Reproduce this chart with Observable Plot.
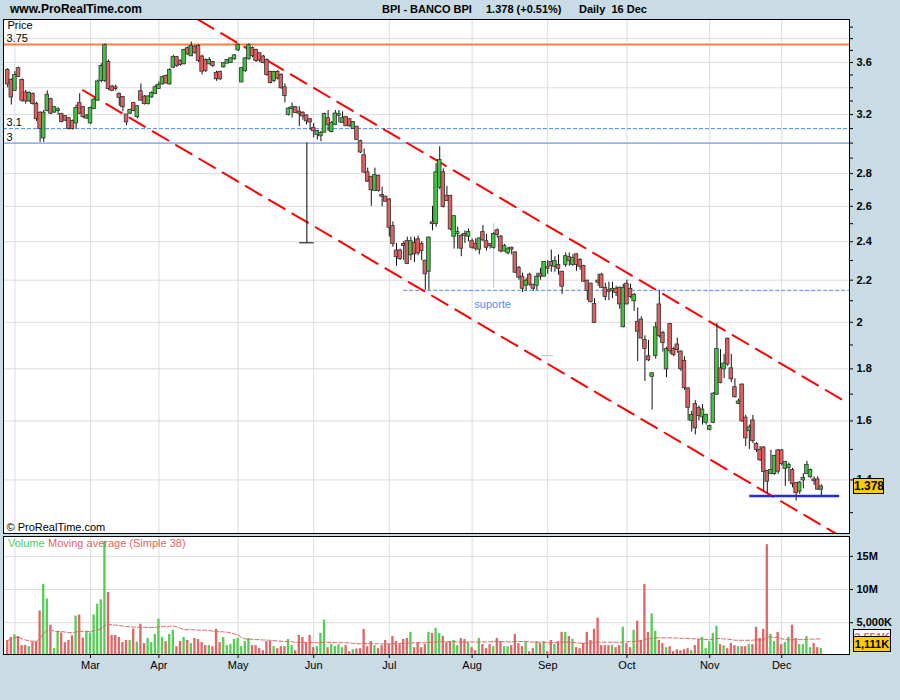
<!DOCTYPE html>
<html><head><meta charset="utf-8">
<script src="https://cdn.jsdelivr.net/npm/d3@7"></script>
<script src="https://cdn.jsdelivr.net/npm/@observablehq/plot@0.6"></script>
<style>
body{margin:0;background:#c9dce6;font-family:"Liberation Sans",Arial,sans-serif;}
#wrap{position:relative;width:900px;height:700px;overflow:hidden;background:#c9dce6;}
.abs{position:absolute;white-space:pre;}
.pp g[aria-label^="y-axis"] text{font-weight:bold;}
.vp g[aria-label^="y-axis"] text{font-weight:bold;}
</style></head>
<body><div id="wrap"></div>
<script>
// ---------------- data ----------------
const site = "www.ProRealTime.com";
const ticker = "BPI - BANCO BPI";
const lastText = "1.378 (+0.51%)";
const period = "Daily  16 Dec";
const holidays = ["2008-03-21","2008-03-24","2008-05-01"];

const open = [
3.535,3.457,3.381,3.55,3.457,3.36,3.30,3.35,3.276,3.21,
3.035,3.23,3.31,3.218,3.23,3.20,3.185,3.17,3.15,3.14,
3.28,3.25,3.175,3.14,3.245,3.306,3.457,3.457,3.60,3.405,
3.40,3.35,3.326,3.197,3.21,3.28,3.185,3.37,3.33,3.28,
3.33,3.355,3.395,3.43,3.488,3.43,3.562,3.64,3.61,3.59,
3.715,3.655,3.727,3.733,3.645,3.616,3.59,3.60,3.513,3.52,
3.565,3.595,3.60,3.63,3.705,3.445,3.535,3.63,3.715,3.70,
3.672,3.645,3.616,3.52,3.457,3.52,3.496,3.40,3.20,3.245,
3.25,3.218,3.21,3.19,3.163,3.10,3.06,3.05,3.075,3.17,
3.08,3.13,3.195,3.142,3.18,3.163,3.10,3.11,3.01,2.915,
2.805,2.777,2.695,2.783,2.665,2.655,2.638,2.484,2.35,2.35,
2.385,2.40,2.33,2.39,2.41,2.385,2.297,2.245,2.505,2.50,
2.715,2.805,2.66,2.66,2.43,2.445,2.43,2.44,2.43,2.40,
2.385,2.36,2.45,2.40,2.385,2.37,2.46,2.425,2.35,2.34,
2.365,2.34,2.26,2.215,2.175,2.225,2.175,2.175,2.23,2.22,
2.265,2.29,2.27,2.275,2.24,2.28,2.315,2.28,2.33,2.30,
2.27,2.195,2.18,2.082,2.195,2.225,2.16,2.15,2.15,2.155,
2.16,1.98,2.18,2.155,2.10,2.00,2.01,1.92,1.85,1.77,
1.855,2.08,1.95,1.80,1.99,1.88,1.90,1.87,1.83,1.72,
1.602,1.66,1.645,1.615,1.595,1.57,1.595,1.70,1.80,1.80,
1.925,1.80,1.725,1.665,1.735,1.61,1.565,1.60,1.517,1.497,
1.505,1.427,1.42,1.42,1.495,1.495,1.437,1.44,1.43,1.388,
1.365,1.40,1.42,1.41,1.40,1.40,1.371];

const high = [
3.55,3.47,3.527,3.563,3.47,3.38,3.37,3.36,3.29,3.22,
3.23,3.376,3.32,3.26,3.25,3.21,3.19,3.18,3.16,3.27,
3.355,3.26,3.20,3.255,3.32,3.46,3.59,3.755,3.62,3.42,
3.42,3.36,3.33,3.20,3.24,3.29,3.265,3.43,3.34,3.34,
3.37,3.42,3.445,3.49,3.50,3.55,3.66,3.65,3.62,3.71,
3.73,3.77,3.74,3.75,3.66,3.63,3.64,3.61,3.53,3.53,
3.60,3.625,3.64,3.665,3.755,3.56,3.64,3.755,3.73,3.71,
3.68,3.66,3.63,3.53,3.53,3.535,3.51,3.43,3.25,3.285,
3.26,3.257,3.22,3.197,3.17,3.136,3.087,3.08,3.21,3.23,
3.15,3.23,3.23,3.22,3.185,3.17,3.15,3.115,3.02,2.96,
2.835,2.78,2.835,2.79,2.715,2.66,2.645,2.51,2.39,2.36,
2.40,2.425,2.425,2.425,2.43,2.40,2.30,2.425,2.60,2.865,
2.975,2.83,2.72,2.665,2.545,2.48,2.44,2.46,2.47,2.415,
2.415,2.42,2.49,2.44,2.39,2.45,2.47,2.435,2.385,2.37,
2.37,2.345,2.27,2.235,2.21,2.235,2.18,2.235,2.26,2.295,
2.30,2.355,2.32,2.33,2.245,2.34,2.34,2.33,2.335,2.31,
2.275,2.20,2.185,2.11,2.23,2.235,2.185,2.19,2.19,2.17,
2.165,2.18,2.20,2.18,2.135,2.065,2.025,1.94,1.92,1.785,
2.00,2.15,1.96,1.89,1.995,1.89,1.93,1.875,1.85,1.725,
1.635,1.675,1.655,1.66,1.625,1.585,1.705,1.995,1.88,1.86,
1.93,1.86,1.76,1.68,1.74,1.62,1.585,1.62,1.523,1.51,
1.51,1.43,1.497,1.48,1.50,1.50,1.46,1.455,1.437,1.392,
1.395,1.42,1.46,1.435,1.41,1.41,1.385];

const low = [
3.40,3.27,3.37,3.48,3.29,3.276,3.29,3.27,3.15,3.005,
3.005,3.22,3.20,3.21,3.195,3.14,3.15,3.09,3.09,3.10,
3.20,3.17,3.165,3.13,3.24,3.30,3.44,3.44,3.38,3.37,
3.375,3.26,3.22,3.12,3.20,3.22,3.17,3.30,3.27,3.27,
3.32,3.35,3.39,3.42,3.43,3.42,3.55,3.56,3.57,3.58,
3.66,3.65,3.67,3.60,3.50,3.52,3.58,3.56,3.45,3.455,
3.555,3.59,3.595,3.62,3.69,3.44,3.52,3.62,3.64,3.60,
3.60,3.59,3.49,3.43,3.44,3.46,3.39,3.285,3.19,3.175,
3.21,3.115,3.16,3.126,3.087,3.035,3.02,3.01,3.07,3.08,
3.07,3.12,3.14,3.14,3.115,3.11,3.095,3.02,2.93,2.80,
2.745,2.60,2.69,2.685,2.597,2.625,2.425,2.37,2.27,2.30,
2.30,2.28,2.30,2.29,2.325,2.30,2.15,2.15,2.46,2.48,
2.70,2.59,2.63,2.46,2.36,2.36,2.32,2.39,2.40,2.36,
2.35,2.33,2.40,2.35,2.36,2.36,2.42,2.34,2.345,2.33,
2.33,2.235,2.20,2.14,2.145,2.17,2.145,2.15,2.20,2.215,
2.23,2.24,2.24,2.225,2.13,2.265,2.27,2.27,2.245,2.25,
2.19,2.10,2.09,1.995,2.17,2.16,2.10,2.10,2.11,2.12,
2.06,1.975,2.08,2.11,2.05,1.83,1.925,1.75,1.83,1.64,
1.84,1.93,1.87,1.765,1.86,1.85,1.865,1.79,1.715,1.60,
1.56,1.55,1.60,1.585,1.585,1.565,1.59,1.695,1.74,1.76,
1.81,1.745,1.685,1.66,1.595,1.51,1.50,1.52,1.49,1.46,
1.362,1.357,1.418,1.415,1.418,1.445,1.38,1.395,1.375,1.335,
1.355,1.372,1.418,1.405,1.383,1.367,1.35];

const close = [
3.43,3.33,3.496,3.488,3.306,3.30,3.355,3.28,3.17,3.10,
3.21,3.343,3.21,3.25,3.235,3.15,3.16,3.10,3.10,3.245,
3.21,3.185,3.19,3.245,3.306,3.445,3.568,3.74,3.394,3.38,
3.395,3.326,3.257,3.147,3.23,3.23,3.257,3.306,3.28,3.33,
3.355,3.40,3.42,3.478,3.437,3.535,3.64,3.575,3.584,3.70,
3.67,3.733,3.68,3.616,3.53,3.535,3.616,3.575,3.47,3.47,
3.59,3.616,3.63,3.655,3.742,3.55,3.63,3.74,3.656,3.616,
3.62,3.60,3.504,3.44,3.52,3.475,3.40,3.34,3.24,3.25,
3.215,3.21,3.19,3.155,3.147,3.085,3.08,3.065,3.20,3.13,
3.136,3.204,3.20,3.17,3.12,3.12,3.142,3.025,2.94,2.81,
2.752,2.70,2.787,2.695,2.66,2.63,2.48,2.39,2.32,2.31,
2.38,2.285,2.40,2.335,2.34,2.353,2.232,2.42,2.50,2.805,
2.885,2.60,2.635,2.47,2.54,2.45,2.365,2.435,2.45,2.37,
2.365,2.415,2.41,2.37,2.38,2.44,2.44,2.35,2.375,2.36,
2.36,2.24,2.215,2.16,2.195,2.18,2.16,2.215,2.22,2.29,
2.26,2.275,2.295,2.26,2.17,2.32,2.30,2.31,2.28,2.27,
2.195,2.15,2.095,2.00,2.19,2.165,2.12,2.145,2.155,2.14,
2.085,2.16,2.085,2.12,2.125,1.96,1.93,1.885,1.837,1.78,
1.975,1.94,1.91,1.88,1.875,1.86,1.88,1.80,1.725,1.65,
1.62,1.575,1.62,1.64,1.62,1.58,1.70,1.88,1.745,1.82,
1.82,1.76,1.69,1.67,1.60,1.54,1.575,1.53,1.50,1.465,
1.427,1.396,1.43,1.476,1.428,1.453,1.456,1.447,1.388,1.36,
1.39,1.405,1.447,1.43,1.398,1.371,1.378];

// volume in millions of shares
const volume = [
2.31,2.77,3.18,2.92,1.54,1.54,1.38,2.00,2.15,6.77,
10.77,8.56,4.62,1.08,3.69,3.44,2.00,2.31,3.03,6.00,
6.15,2.67,3.69,3.44,6.15,7.79,8.46,17.28,9.54,3.08,
3.08,2.77,2.00,2.31,2.31,4.05,2.05,4.77,1.85,2.62,
2.00,3.23,5.54,2.77,2.15,3.23,3.85,1.38,2.15,2.77,
2.31,1.85,2.62,2.46,2.00,1.54,1.54,1.38,4.00,2.00,
2.77,1.54,1.69,2.46,2.62,1.38,2.15,2.62,1.54,1.54,
1.08,0.77,2.15,2.15,1.38,1.08,1.38,1.38,2.46,1.54,
0.77,3.08,2.77,2.00,3.08,1.23,1.38,3.38,5.38,1.23,
1.69,1.38,1.69,1.23,1.54,0.62,0.92,1.03,1.08,4.00,
1.38,2.15,1.54,1.08,1.54,2.31,1.69,2.92,2.15,1.69,
2.46,2.62,3.54,1.23,2.00,1.23,1.69,3.54,3.38,4.15,
3.38,2.92,2.00,2.15,2.31,1.54,2.62,2.46,2.00,1.23,
0.77,2.62,1.69,1.08,1.69,1.38,2.62,2.15,1.38,1.38,
1.54,3.23,1.85,1.38,2.00,0.62,1.08,2.15,1.85,2.15,
0.62,2.31,1.69,2.15,3.54,3.54,2.92,2.46,1.23,1.08,
1.85,3.54,2.31,4.00,5.69,1.54,1.54,1.54,1.54,1.23,
1.54,4.31,1.85,1.23,3.85,5.23,2.31,10.77,3.54,6.31,
3.69,2.31,1.85,1.23,1.38,0.62,0.92,0.77,0.92,1.08,
0.77,1.54,2.46,2.77,1.08,2.15,3.38,4.46,1.69,1.54,
1.08,1.85,1.54,1.38,1.38,1.38,1.69,1.69,4.31,2.62,
4.00,16.77,3.23,2.15,3.54,1.69,2.00,2.77,4.62,2.62,
1.69,1.69,2.92,1.23,1.85,1.23,1.111];

// drawn lines (trading-day index, price)
const channelUpper = [{k:52.8, p:3.968},{k:233.6, p:1.664}];
const channelLower = [{k:20.9, p:3.381},{k:230.2, p:1.239}];
const resistance = 3.75;
const level31 = 3.1;
const level3 = 3.0;
const suporte = [{k1:110, k2:234, p:2.15, label:"suporte", kl:134.7}];
const supportLow = [{k1:206.1, k2:231.1, p:1.35}];
const markerBlack = [{k:83.1, p1:3.0, p2:2.394, ka:81.1, kb:85.1}];
const markerBlue = [{k:135, p1:2.50, p2:2.16, ka:148.3, kb:151.6, pt:1.855}];

const priceTicks = [3.9,3.8,3.7,3.6,3.5,3.4,3.3,3.2,3.1,3.0,2.9,2.8,2.7,2.6,2.5,2.4,2.3,2.2,2.1,2.0,1.9,1.8,1.7,1.6,1.5,1.4,1.3];
const priceLabels = [3.6,3.2,2.8,2.6,2.4,2.2,2.0,1.8,1.6,1.4];
const priceGrid = [3.8,3.6,3.4,3.2,3.0,2.8,2.6,2.4,2.2,2.0,1.8,1.6,1.4];
const volTicks = [5,10,15];
const volLabels = ["5,000K","10M","15M"];
const leftLabels = [{p:3.75, t:"3.75"},{p:3.1, t:"3.1"},{p:3.0, t:"3"}];

// ---------------- build ----------------
const n = Math.min(open.length, high.length, low.length, close.length, volume.length);
const dates = [];
for (let d = new Date(Date.UTC(2008,0,30)); dates.length < n; d.setUTCDate(d.getUTCDate()+1)) {
  const wd = d.getUTCDay(); const s = d.toISOString().slice(0,10);
  if (wd !== 0 && wd !== 6 && !holidays.includes(s)) dates.push(new Date(d));
}
const data = d3.range(n).map(k => ({k, date: dates[k], open: open[k], high: high[k], low: low[k], close: close[k], vol: volume[k], up: close[k] >= open[k]}));
const monthStarts = data.filter((d,i) => i > 0 && d.date.getUTCMonth() !== data[i-1].date.getUTCMonth()).map(d => d.k);
const axisMonths = monthStarts.filter(k => dates[k].getUTCMonth() >= 2);
const fmtMonth = d3.utcFormat("%b");

const GREEN = "#3fc43f", RED = "#e06060";
const VGREEN = "#55cc55", VRED = "#e06666";
const xDomain = [-1.17, 233.83];
const font = "Liberation Sans, Arial, sans-serif";

const wrap = document.getElementById("wrap");

function addText(txt, left, top, css) {
  const el = document.createElement("div");
  el.className = "abs";
  el.textContent = txt;
  el.style.left = left + "px"; el.style.top = top + "px";
  Object.assign(el.style, css || {});
  wrap.appendChild(el);
  return el;
}
addText(site, 10, 1, {fontWeight:"bold", fontSize:"12px", lineHeight:"16px"});
addText(ticker, 382, 2, {fontWeight:"bold", fontSize:"11px", lineHeight:"14px"});
addText(lastText, 486, 2, {fontWeight:"bold", fontSize:"11px", lineHeight:"14px"});
addText(period, 579, 2, {fontWeight:"bold", fontSize:"11px", lineHeight:"14px"});

const pricePlot = Plot.plot({
  width: 900, height: 534,
  marginTop: 19, marginBottom: 1, marginLeft: 3, marginRight: 51,
  style: {background: "none", fontFamily: font, fontSize: "11px", color: "black", overflow: "visible"},
  x: {type: "linear", domain: xDomain, axis: null},
  y: {type: "log", domain: [1.2402, 3.968], axis: "right", ticks: priceTicks,
      tickFormat: d => priceLabels.some(v => Math.abs(v - d) < 1e-9) ? String(+d.toFixed(1)) : "",
      tickSize: 3, tickPadding: 4, label: null},
  marks: [
    Plot.frame({fill: "white", stroke: "none"}),
    Plot.ruleY(priceGrid, {stroke: "#dcdcdc"}),
    Plot.ruleX(monthStarts, {stroke: "#dcdcdc"}),
    Plot.ruleY([level31], {stroke: "#4d8cff", strokeDasharray: "4,2"}),
    Plot.ruleY([level3], {stroke: "#5b8def"}),
    Plot.ruleY(suporte, {x1: "k1", x2: "k2", y: "p", stroke: "#4d8cff", strokeDasharray: "4,2", clip: true}),
    Plot.ruleY([resistance], {stroke: "#ff8040", strokeWidth: 2}),
    Plot.line(channelUpper, {x: "k", y: "p", stroke: "#ff0000", strokeWidth: 2, strokeDasharray: "18,9", clip: true}),
    Plot.line(channelLower, {x: "k", y: "p", stroke: "#ff0000", strokeWidth: 2, strokeDasharray: "18,9", clip: true}),
    Plot.ruleX(markerBlue, {x: "k", y1: "p1", y2: "p2", stroke: "#a8c4f0"}),
    Plot.ruleY(markerBlue, {x1: "ka", x2: "kb", y: "pt", stroke: "#a8c4f0"}),
    Plot.ruleX(data, {x: "k", y1: "low", y2: "high", stroke: "#111", strokeWidth: 1}),
    Plot.rect(data, {x1: d => d.k - 0.5, x2: d => d.k + 0.5, y1: "open", y2: "close",
      fill: d => d.up ? GREEN : RED, stroke: "#333", strokeWidth: 0.8, insetTop: -0.5, insetBottom: -0.5}),
    Plot.ruleX(markerBlack, {x: "k", y1: "p1", y2: "p2", stroke: "black"}),
    Plot.ruleY(markerBlack, {x1: "ka", x2: "kb", y: "p2", stroke: "black"}),
    Plot.ruleY(supportLow, {x1: "k1", x2: "k2", y: "p", stroke: "#2b2bd6", strokeWidth: 2.5}),
    Plot.text(suporte, {x: "kl", y: "p", text: "label", dy: 14, fill: "#4d8cff", fontSize: 11}),
    Plot.text(leftLabels, {y: "p", text: "t", frameAnchor: "left", textAnchor: "start", dx: 3, dy: -6, fill: "black"}),
    Plot.text(["Price"], {frameAnchor: "top-left", textAnchor: "start", lineAnchor: "middle", dx: 4, dy: 6, fill: "black"}),
    Plot.text(["© ProRealTime.com"], {frameAnchor: "bottom-left", textAnchor: "start", lineAnchor: "middle", dx: 3, dy: -6, fill: "black"}),
    Plot.frame({stroke: "black"})
  ]
});
const pdiv = document.createElement("div");
pdiv.className = "abs pp"; pdiv.style.left = "0px"; pdiv.style.top = "0px";
pdiv.appendChild(pricePlot); wrap.appendChild(pdiv);

const volPlot = Plot.plot({
  width: 900, height: 170,
  marginTop: 6, marginBottom: 46, marginLeft: 3, marginRight: 51,
  style: {background: "none", fontFamily: font, fontSize: "11px", color: "black", overflow: "visible"},
  x: {type: "linear", domain: xDomain, ticks: axisMonths, tickFormat: k => fmtMonth(dates[k]), tickSize: 4, tickPadding: 3, label: null},
  y: {type: "linear", domain: [0.2, 18.0], axis: "right", ticks: volTicks,
      tickFormat: v => volLabels[volTicks.indexOf(v)], tickSize: 3, tickPadding: 4, label: null},
  marks: [
    Plot.frame({fill: "white", stroke: "none"}),
    Plot.ruleY(volTicks, {stroke: "#dcdcdc"}),
    Plot.ruleX(monthStarts, {stroke: "#dcdcdc"}),
    Plot.rect(data, {x1: d => d.k - 0.32, x2: d => d.k + 0.32, y1: 0, y2: "vol", fill: d => d.up ? VGREEN : VRED, clip: true}),
    Plot.lineY(data, Plot.windowY({k: 38, anchor: "end", reduce: "mean"}, {x: "k", y: "vol", stroke: "#e06666", strokeWidth: 1, strokeDasharray: "4,2"})),
    Plot.text(["Volume"], {frameAnchor: "top-left", textAnchor: "start", lineAnchor: "middle", dx: 4.5, dy: 7, fill: "#55cc55"}),
    Plot.text(["Moving average (Simple 38)"], {frameAnchor: "top-left", textAnchor: "start", lineAnchor: "middle", dx: 44.5, dy: 7, fill: "#e06666"}),
    Plot.frame({stroke: "black"})
  ]
});
const vdiv = document.createElement("div");
vdiv.className = "abs vp"; vdiv.style.left = "0px"; vdiv.style.top = "530px";
vdiv.appendChild(volPlot); wrap.appendChild(vdiv);

// value boxes on the right axis, placed through the plots' own scales
function scaleFn(plot, name, type) {
  const s = plot.scale(name);
  if (s && typeof s.apply === "function") return v => s.apply(v);
  const f = (type === "log" ? d3.scaleLog() : d3.scaleLinear()).domain(s.domain).range(s.range);
  return v => f(v);
}
const last = data[n - 1];
const py = scaleFn(pricePlot, "y", "log")(last.close);
addText(d3.format(".3f")(last.close), 853, py - 8, {width:"29px", height:"14px", lineHeight:"14px", textAlign:"center",
  background:"#ffcc00", border:"1px solid black", fontWeight:"bold", fontSize:"12px"});

const ma = d3.mean(volume.slice(n - 38, n));
const vy = 530 + scaleFn(volPlot, "y", "linear")(last.vol);
const yTop = Math.min(vy - 8, 636);
addText(d3.format(",")(Math.round(ma * 1000)) + "K", 853, yTop - 7, {width:"36px", height:"14px", lineHeight:"14px", textAlign:"center",
  background:"white", border:"1px solid black", fontWeight:"bold", fontSize:"11px", color:"#e06666", overflow:"hidden"});
addText(d3.format(",")(Math.round(last.vol * 1000)) + "K", 853, yTop, {width:"36px", height:"14px", lineHeight:"14px", textAlign:"center",
  background:"#ffcc00", border:"1px solid black", fontWeight:"bold", fontSize:"11px"});
</script></body></html>
